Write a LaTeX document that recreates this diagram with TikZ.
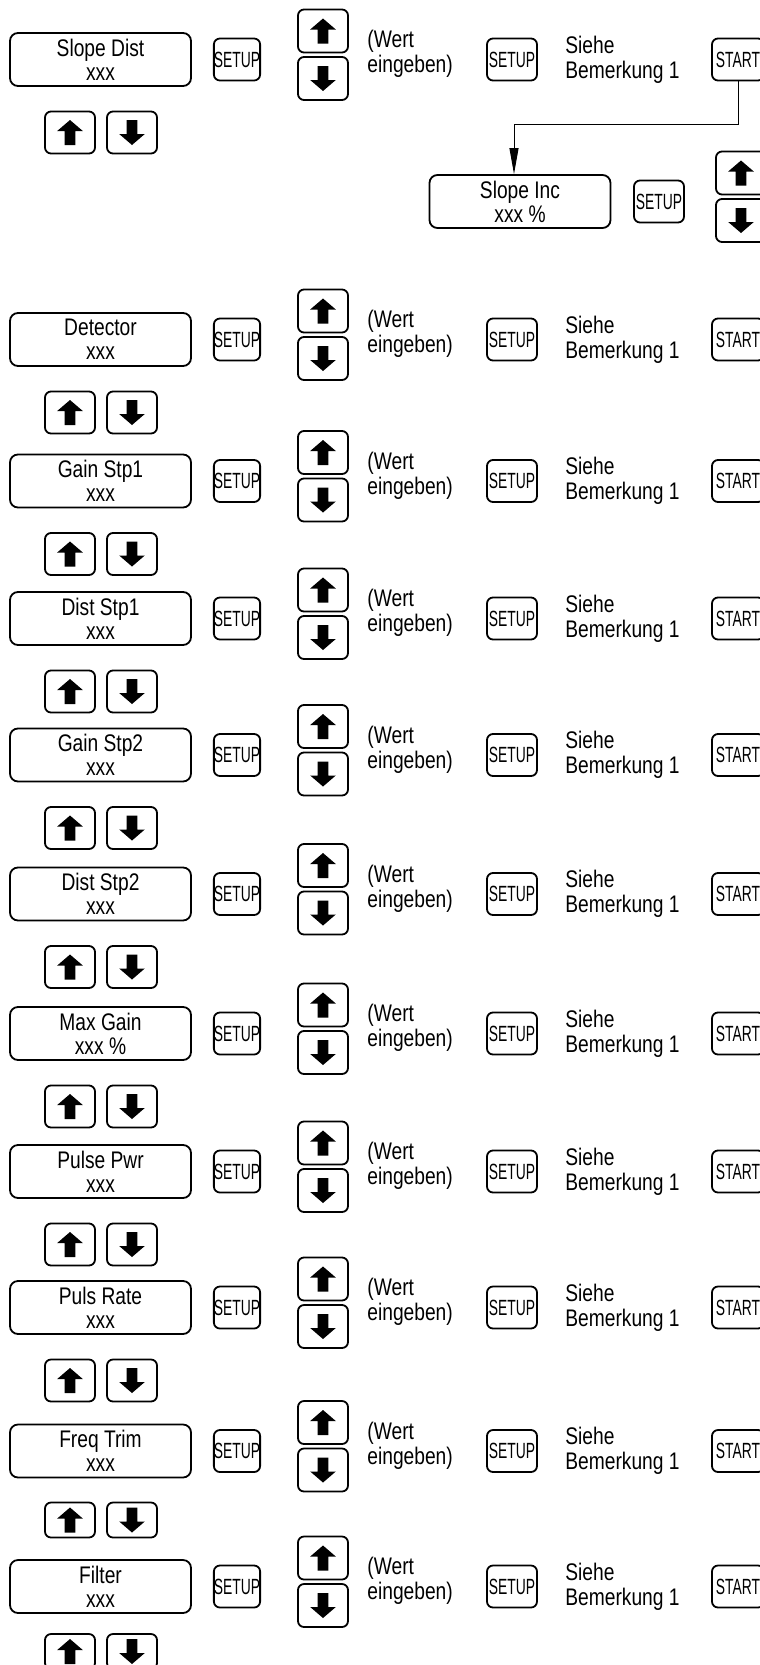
\documentclass[tikz,border=0pt]{standalone}
\usepackage{fontspec}
\setmainfont{Liberation Sans}[FakeStretch=0.8]
\newfontfamily\keyfont{Liberation Sans}[FakeStretch=0.63]
\usetikzlibrary{arrows.meta}

\tikzset{
	display/.style={draw, line width=0.9pt, rounded corners=4pt, minimum width=90.5pt,
		minimum height=26.5pt, inner sep=0pt, align=center, font=\fontsize{12}{12}\selectfont},
	key/.style={draw, line width=0.9pt, rounded corners=3pt, minimum width=25pt,
		minimum height=21pt, inner sep=0pt, font=\keyfont\fontsize{11}{11}\selectfont},
	upkey/.style={key, minimum height=21.5pt, path picture={
		\fill[sharp corners, shift={(path picture bounding box.center)}]
			(0pt,6.25pt) -- (6.4pt,0.75pt) -- (2.65pt,0.75pt) -- (2.65pt,-6.25pt)
			-- (-2.65pt,-6.25pt) -- (-2.65pt,0.75pt) -- (-6.4pt,0.75pt) -- cycle;}},
	downkey/.style={key, minimum height=21.5pt, path picture={
		\fill[sharp corners, shift={(path picture bounding box.center)}]
			(0pt,-6.25pt) -- (6.4pt,-0.75pt) -- (2.65pt,-0.75pt) -- (2.65pt,6.25pt)
			-- (-2.65pt,6.25pt) -- (-2.65pt,-0.75pt) -- (-6.4pt,-0.75pt) -- cycle;}},
	note/.style={anchor=west, align=left, inner sep=0pt, font=\fontsize{12}{12.5}\selectfont}
}

\begin{document}
\begin{tikzpicture}[x=0.5pt, y=-0.5pt]
	\path[use as bounding box, clip] (0,0) rectangle (760,1665);
	\foreach \lbl/\val/\yc/\yo/\kh [count=\i] in {
			Slope Dist/xxx/59.5/73/21, Detector/xxx/339.5/73/21, Gain Stp1/xxx/481/73/21,
			Dist Stp1/xxx/618.5/73/21, Gain Stp2/xxx/755/73/21, Dist Stp2/xxx/894/73/21,
			Max Gain/xxx \%/1033.5/73/21, Pulse Pwr/xxx/1171.5/73/21, Puls Rate/xxx/1307.5/73/21,
			Freq Trim/xxx/1451/69/17.5, Filter/xxx/1586.5/65/17.5} {
		\node[display] (box\i) at (100.5,\yc) {\lbl\\\val};
		\node[key, minimum width=23pt] (set\i) at (237,\yc) {SETUP};
		\node[upkey] (up\i) at (323,\yc-28.5) {};
		\node[downkey] (dn\i) at (323,\yc+19) {};
		\node[note] (wert\i) at (367,\yc-5.5) {(Wert\\eingeben)};
		\node[key] (ok\i) at (512,\yc) {SETUP};
		\node[note] (see\i) at (565,\yc) {Siehe\\Bemerkung 1};
		\node[key, minimum width=26pt] (start\i) at (738,\yc) {START};
		\node[upkey, minimum height=\kh pt] (prev\i) at (70,\yc+\yo) {};
		\node[downkey, minimum height=\kh pt] (next\i) at (132,\yc+\yo) {};
	}
	\node[display] (inc) at (520,201.5) {Slope Inc\\xxx \%};
	\node[key] (incset) at (659,201.5) {SETUP};
	\node[upkey] (incup) at (741,173) {};
	\node[downkey] (incdn) at (741,220.5) {};
	\draw[line width=0.5pt, -{Triangle[length=13pt, width=4.5pt]}]
		(start1.south) -- ++(0,43) -| ([xshift=-3pt]inc.north);
\end{tikzpicture}
\end{document}
